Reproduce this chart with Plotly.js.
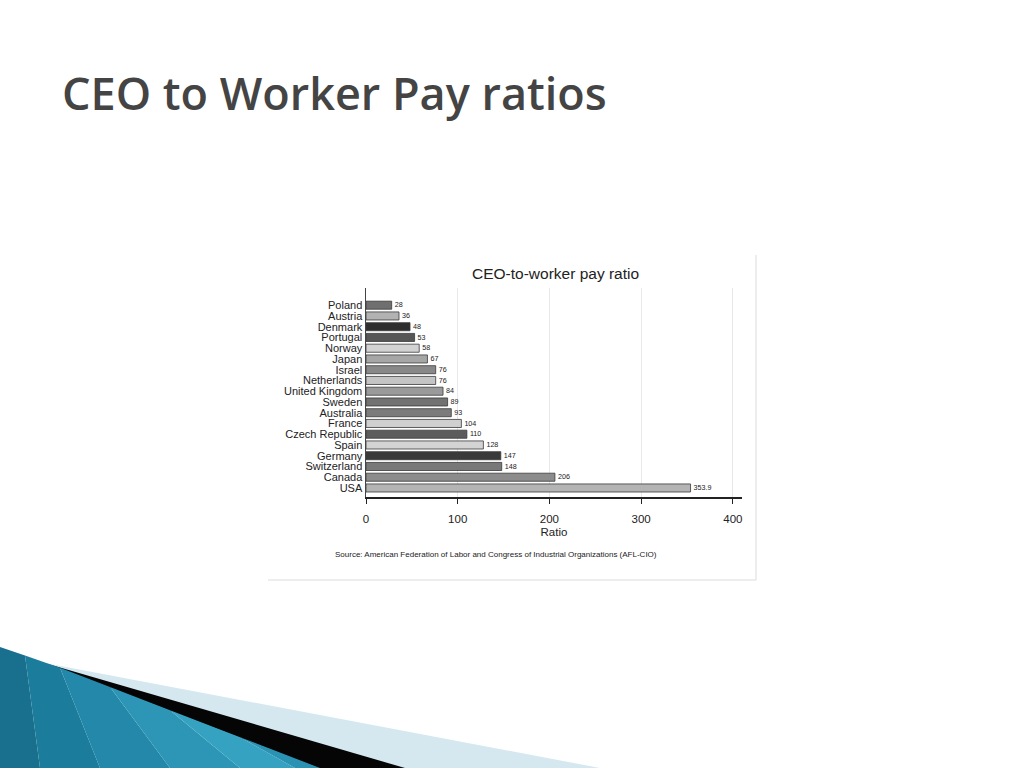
<!DOCTYPE html>
<html>
<head>
<meta charset="utf-8">
<script src="https://cdn.plot.ly/plotly-3.0.1.min.js"></script>
<style>
  html, body { margin: 0; padding: 0; background: #ffffff; }
  #chart { width: 1024px; height: 768px; }
</style>
</head>
<body>
<div id="chart"></div>
<script>
// CEO-to-worker pay ratio, by country (AFL-CIO)
var countries = ['Poland', 'Austria', 'Denmark', 'Portugal', 'Norway', 'Japan', 'Israel',
  'Netherlands', 'United Kingdom', 'Sweden', 'Australia', 'France', 'Czech Republic',
  'Spain', 'Germany', 'Switzerland', 'Canada', 'USA'];
var ratios = [28, 36, 48, 53, 58, 67, 76, 76, 84, 89, 93, 104, 110, 128, 147, 148, 206, 353.9];
var ratioLabels = ['28', '36', '48', '53', '58', '67', '76', '76', '84', '89', '93', '104',
  '110', '128', '147', '148', '206', '353.9'];
var barColors = ['#6f6f6f', '#b2b2b2', '#2e2e2e', '#565656', '#d2d2d2', '#a6a6a6', '#888888',
  '#c4c4c4', '#9a9a9a', '#727272', '#7c7c7c', '#d0d0d0', '#5c5c5c', '#d3d3d3', '#3a3a3a',
  '#787878', '#8c8c8c', '#b4b4b4'];
var xTicks = [0, 100, 200, 300, 400];

// plot area in page pixels
var L = 366, R = 742, T = 288, B = 497;
function px(x) { return (x - L) / (R - L); }
function py(y) { return (B - y) / (B - T); }
function path(pts) {
  return 'M' + pts.map(function (p) { return px(p[0]) + ',' + py(p[1]); }).join(' L') + ' Z';
}
function deco(pts, color) {
  return {type: 'path', xref: 'paper', yref: 'paper', layer: 'below', line: {width: 0},
    fillcolor: color, path: path(pts)};
}

var bars = {
  type: 'bar',
  orientation: 'h',
  y: countries,
  x: ratios,
  text: ratioLabels,
  textposition: 'outside',
  textfont: {family: 'Arial, Liberation Sans, sans-serif', size: 8, color: '#222'},
  cliponaxis: false,
  width: 0.75,
  marker: {color: barColors, line: {color: '#3a3a3a', width: 0.8}},
  hoverinfo: 'none'
};

// teal wedge drawn as a few bands to fake the gradient
function topY(x) { return x <= 50 ? 647 + x * 17 / 50 : 664 + (x - 50) * 104 / 270; }
var bandTop = [0, 25, 60, 110, 170, 240, 320];
var bandBot = [0, 40, 100, 170, 240, 295, 320];
var bandCol = ['#18708e', '#1c7c9c', '#2388a9', '#2d96b7', '#36a2c2', '#2a93b4'];
var shapes = [
  // frame of the pasted chart image
  {type: 'line', xref: 'paper', yref: 'paper', x0: px(756), x1: px(756), y0: py(255), y1: py(580),
    line: {color: '#dcdcdc', width: 1}},
  {type: 'line', xref: 'paper', yref: 'paper', x0: px(268), x1: px(756), y0: py(580), y1: py(580),
    line: {color: '#dcdcdc', width: 1}},
  // light stripe and black stripe
  deco([[45, 663], [600, 768], [330, 768]], '#d5e8f0'),
  deco([[48, 664], [405, 768], [318, 768]], '#050505')
];
for (var i = 0; i < bandCol.length; i++) {
  var a = bandTop[i], b = bandTop[i + 1];
  shapes.push(deco([[a, topY(a)], [b, topY(b)], [bandBot[i + 1], 768], [bandBot[i], 768]], bandCol[i]));
}

var annotations = [
  {text: 'CEO to Worker Pay ratios', xref: 'paper', yref: 'paper', x: px(60), y: py(92),
    xanchor: 'left', yanchor: 'middle', showarrow: false,
    font: {family: 'Open Sans, DejaVu Sans, sans-serif', size: 45, weight: 600, color: '#444444'}},
  {text: 'CEO-to-worker pay ratio', xref: 'paper', yref: 'paper', x: px(555), y: py(273),
    xanchor: 'center', yanchor: 'middle', showarrow: false,
    font: {family: 'Arial, Liberation Sans, sans-serif', size: 15.5, color: '#222'}},
  {text: 'Source: American Federation of Labor and Congress of Industrial Organizations (AFL-CIO)',
    xref: 'paper', yref: 'paper', x: px(333), y: py(554), xanchor: 'left', yanchor: 'middle',
    showarrow: false, font: {family: 'Arial, Liberation Sans, sans-serif', size: 8, color: '#222'}}
];

var layout = {
  width: 1024,
  height: 768,
  margin: {l: L, r: 1024 - R, t: T, b: 768 - B, pad: 0},
  paper_bgcolor: '#ffffff',
  plot_bgcolor: '#ffffff',
  showlegend: false,
  font: {family: 'Arial, Liberation Sans, sans-serif', color: '#222'},
  xaxis: {
    range: [0, 410],
    tickvals: xTicks,
    ticktext: xTicks.map(String),
    ticks: 'outside',
    ticklen: 5,
    tickcolor: '#222',
    ticklabelstandoff: 6,
    tickfont: {size: 11.5, color: '#222'},
    showline: true,
    linecolor: '#222',
    linewidth: 1.5,
    showgrid: true,
    gridcolor: '#e8e8e8',
    gridwidth: 1,
    zeroline: false,
    title: {text: 'Ratio', font: {size: 11.5, color: '#222'}, standoff: 3}
  },
  yaxis: {
    type: 'category',
    range: [17.84, -1.6],
    tickmode: 'array',
    tickvals: countries,
    ticktext: countries,
    ticks: '',
    tickfont: {size: 11, color: '#222'},
    showline: true,
    linecolor: '#444',
    linewidth: 1.5,
    showgrid: false,
    zeroline: false
  },
  shapes: shapes,
  annotations: annotations
};

Plotly.newPlot('chart', [bars], layout, {displayModeBar: false, staticPlot: true});
</script>
</body>
</html>
